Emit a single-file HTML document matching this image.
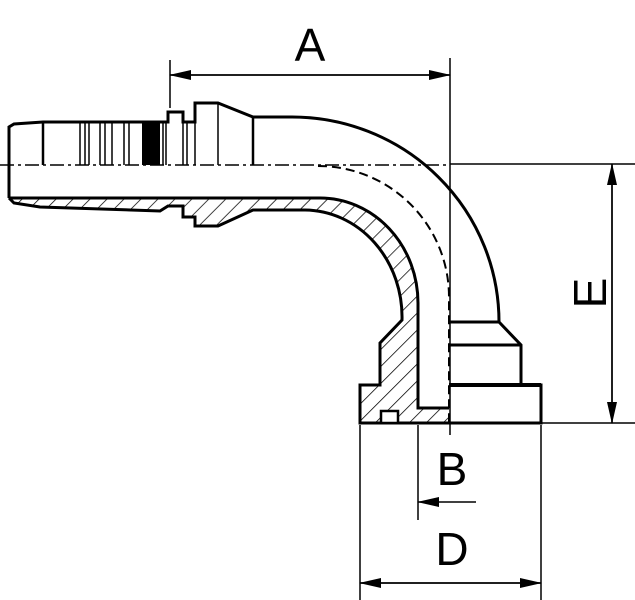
<!DOCTYPE html>
<html><head><style>html,body{margin:0;padding:0;background:#fff}svg{display:block}</style></head><body>
<svg width="635" height="600" viewBox="0 0 635 600" xmlns="http://www.w3.org/2000/svg">
<defs>
<pattern id="h" patternUnits="userSpaceOnUse" width="12" height="12" patternTransform="rotate(45)">
<line x1="0" y1="0" x2="0" y2="12" stroke="#000" stroke-width="1.5"/>
</pattern>
<marker id="ar" markerWidth="22" markerHeight="10" refX="21" refY="5" orient="auto" markerUnits="userSpaceOnUse">
<path d="M0,0 L22,5 L0,10 z" fill="#000"/></marker>
</defs>
<g fill="none" stroke="#000">
<!-- center lines -->
<line x1="0" y1="165" x2="450" y2="165" stroke-width="1.5" stroke-dasharray="14,4,3,4"/>
<line x1="450" y1="164" x2="635" y2="164" stroke-width="1.5"/>
<line x1="450" y1="58" x2="450" y2="435" stroke-width="1.5"/>
<!-- hatched sections -->
<path d="M9,198 L320,198 A98,105 0 0 1 418,303 L418,408 L449,408 L449,423 L360,423 L360,385 L380,385 L380,343 L402,320 A98,107 0 0 0 305,210 L253,210 L218,226 L195,226 L195,217 L183,217 L183,206 L168,206 L160,212 L40,207 L9,203 Z" fill="url(#h)" stroke="none"/>
<path d="M9,198 L320,198 A98,105 0 0 1 418,303 L418,408 L449,408" stroke-width="3"/>
<path d="M449,423 L360,423 L360,385 L380,385 L380,343 L402,320 A98,107 0 0 0 305,210 L253,210 L218,226 L195,226 L195,217 L183,217 L183,206 L168,206 L160,211 L40,207 L14,203 L9,198" stroke-width="3"/>
<rect x="381" y="411" width="17" height="12" stroke-width="2.5" fill="#fff"/>
<!-- upper half outside -->
<path d="M9,198 L9,127 L14,124 L43,122 L168,122 L168,112 L183,112 L183,122 L195,122 L195,103 L218,103 L253,117 L292,117 A207,205 0 0 1 499,322" stroke-width="3"/>
<g stroke-width="1.5">
<line x1="43" y1="122" x2="43" y2="165" stroke-width="2.5"/>
<line x1="80" y1="122" x2="80" y2="165"/><line x1="85" y1="122" x2="85" y2="165"/><line x1="89" y1="122" x2="89" y2="165"/>
<line x1="100" y1="122" x2="100" y2="165"/><line x1="105" y1="122" x2="105" y2="165"/><line x1="112" y1="122" x2="112" y2="165"/>
<line x1="124" y1="122" x2="124" y2="165"/><line x1="129" y1="122" x2="129" y2="165"/>
<line x1="163" y1="122" x2="163" y2="165"/><line x1="166" y1="122" x2="166" y2="165"/>
<line x1="183" y1="122" x2="183" y2="165"/><line x1="187" y1="122" x2="187" y2="165"/>
<line x1="195" y1="122" x2="195" y2="165"/>
<line x1="218" y1="103" x2="218" y2="165"/>
<line x1="253" y1="117" x2="253" y2="165" stroke-width="2.5"/>
</g>
<rect x="142" y="122" width="18" height="43" fill="#000" stroke="none"/>
<!-- dashed bore arc -->
<path d="M318,166 A131,131 0 0 1 449,297 L449,423" stroke-width="2" stroke-dasharray="9,5"/>
<!-- nut -->
<path d="M449,322 L499,322 L521,345 L521,385 M449,345 L521,345" stroke-width="3"/>
<path d="M449,385 L541,385 L541,423 L449,423" stroke-width="3"/>
<line x1="449" y1="385" x2="541" y2="385" stroke-width="4"/>
<!-- dimension lines -->
<g stroke-width="1.5">
<line x1="170" y1="60" x2="170" y2="108"/>
<line x1="170" y1="75" x2="450" y2="75" marker-end="url(#ar)"/>
<line x1="450" y1="75" x2="170" y2="75" marker-end="url(#ar)"/>
<line x1="541" y1="423" x2="635" y2="423"/>
<line x1="612" y1="164" x2="612" y2="423" marker-end="url(#ar)"/>
<line x1="612" y1="423" x2="612" y2="164" marker-end="url(#ar)"/>
<line x1="360" y1="425" x2="360" y2="600"/>
<line x1="418" y1="425" x2="418" y2="520"/>
<line x1="541" y1="425" x2="541" y2="600"/>
<line x1="476" y1="502" x2="418" y2="502" marker-end="url(#ar)"/>
<line x1="360" y1="583" x2="541" y2="583" marker-end="url(#ar)"/>
<line x1="541" y1="583" x2="360" y2="583" marker-end="url(#ar)"/>
</g>
</g>
<g font-family="Liberation Sans, sans-serif" font-size="46" fill="#000" text-anchor="middle">
<text x="310" y="61">A</text>
<text x="452" y="485">B</text>
<text x="452" y="565">D</text>
<text x="0" y="0" transform="translate(606,293) rotate(-90)">E</text>
</g>
</svg>
</body></html>
